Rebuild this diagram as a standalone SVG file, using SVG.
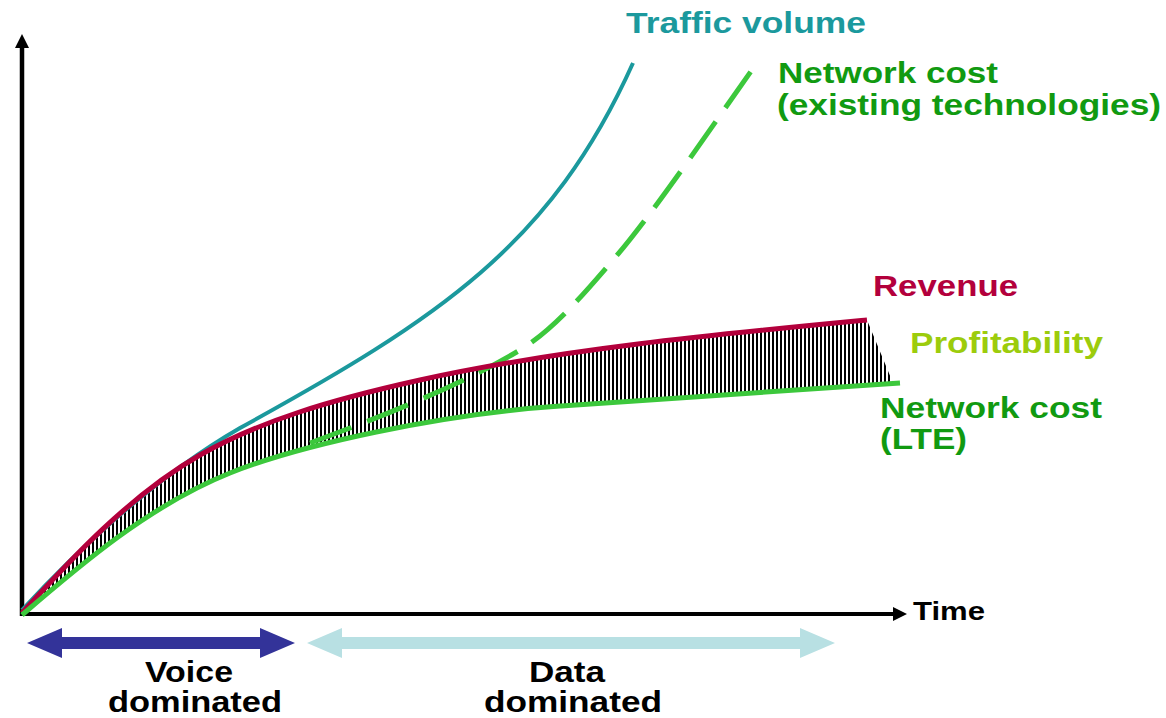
<svg xmlns="http://www.w3.org/2000/svg" width="1166" height="718" viewBox="0 0 1166 718">
  <style>
    .lbl { font-family: "Liberation Sans", Arial, sans-serif; font-weight: bold; font-size: 30px; }
    .curve { fill: none; stroke-linecap: butt; stroke-linejoin: round; }
  </style>
  <defs>
    <!-- vertical black stripes used for the profit band -->
    <pattern id="stripes" patternUnits="userSpaceOnUse" width="4" height="10">
      <rect x="0" y="0" width="2" height="10" fill="#000" shape-rendering="crispEdges"/>
    </pattern>
  </defs>

  <rect width="1166" height="718" fill="#fff"/>

  <!-- profit band between revenue and LTE cost -->
  <path id="profit-band" fill="url(#stripes)"
        d="M22,613 C70,560 130,495 200,455 C260,421 330,400 420,380 C560,349 720,334 867,320
           L893,383
           C800,389 680,398 560,406 C440,414 300,445 230,473 C150,505 80,565 22,615 Z"/>

  <!-- axes -->
  <g id="axes" fill="#000" stroke="#000">
    <line x1="22" y1="616" x2="22" y2="46" stroke-width="4.5"/>
    <polygon points="22,34 15,48 29,48" stroke="none"/>
    <line x1="20" y1="614" x2="895" y2="614" stroke-width="4"/>
    <polygon points="907,614 893,607 893,621" stroke="none"/>
  </g>

  <g id="curves">
    <!-- traffic volume -->
    <path class="curve" stroke="#1b999d" stroke-width="4"
          d="M22,610 C70,558 150,480 240,428 C440,318 551,245 633,63"/>
    <!-- network cost, existing technologies -->
    <path class="curve" stroke="#3cc83c" stroke-width="5" stroke-dasharray="44 17"
          d="M310,443 C400,410 470,380 520,350 C553,330 583,295 613,260 C658,208 727,104 757,63"/>
    <!-- revenue -->
    <path class="curve" stroke="#b3003c" stroke-width="5"
          d="M22,613 C70,560 130,495 200,455 C260,421 330,400 420,380 C560,349 720,334 867,320"/>
    <!-- network cost, LTE -->
    <path class="curve" stroke="#3cc83c" stroke-width="5"
          d="M22,615 C80,565 150,505 230,473 C300,445 440,414 560,406 C680,398 800,389 900,383"/>
  </g>

  <!-- period arrows under the time axis -->
  <g id="periods">
    <polygon id="voice-arrow" fill="#333399"
             points="27,643 62,628 62,637 260,637 260,628 295,643 260,658 260,649 62,649 62,658"/>
    <polygon id="data-arrow" fill="#b8e0e3"
             points="307,643 342,628 342,637 800,637 800,628 835,643 800,658 800,649 342,649 342,658"/>
  </g>

  <g id="labels">
    <text class="lbl" x="626" y="33" textLength="240" lengthAdjust="spacingAndGlyphs" fill="#1b999d">Traffic volume</text>
    <text class="lbl" x="778" y="83" textLength="220" lengthAdjust="spacingAndGlyphs" fill="#119a11">Network cost</text>
    <text class="lbl" x="777" y="115" textLength="384" lengthAdjust="spacingAndGlyphs" fill="#119a11">(existing technologies)</text>
    <text class="lbl" x="873" y="296" textLength="145" lengthAdjust="spacingAndGlyphs" fill="#b3003c">Revenue</text>
    <text class="lbl" x="910" y="353" textLength="193" lengthAdjust="spacingAndGlyphs" fill="#9ccc0c">Profitability</text>
    <text class="lbl" x="880" y="418" textLength="222" lengthAdjust="spacingAndGlyphs" fill="#119a11">Network cost</text>
    <text class="lbl" x="880" y="449" textLength="87" lengthAdjust="spacingAndGlyphs" fill="#119a11">(LTE)</text>
    <text class="lbl" x="913" y="620" style="font-size:25px" textLength="72" lengthAdjust="spacingAndGlyphs" fill="#000">Time</text>
    <text class="lbl" x="145" y="682" textLength="88" lengthAdjust="spacingAndGlyphs" fill="#000">Voice</text>
    <text class="lbl" x="108" y="712" textLength="174" lengthAdjust="spacingAndGlyphs" fill="#000">dominated</text>
    <text class="lbl" x="529" y="682" textLength="76" lengthAdjust="spacingAndGlyphs" fill="#000">Data</text>
    <text class="lbl" x="484" y="712" textLength="178" lengthAdjust="spacingAndGlyphs" fill="#000">dominated</text>
  </g>
</svg>
